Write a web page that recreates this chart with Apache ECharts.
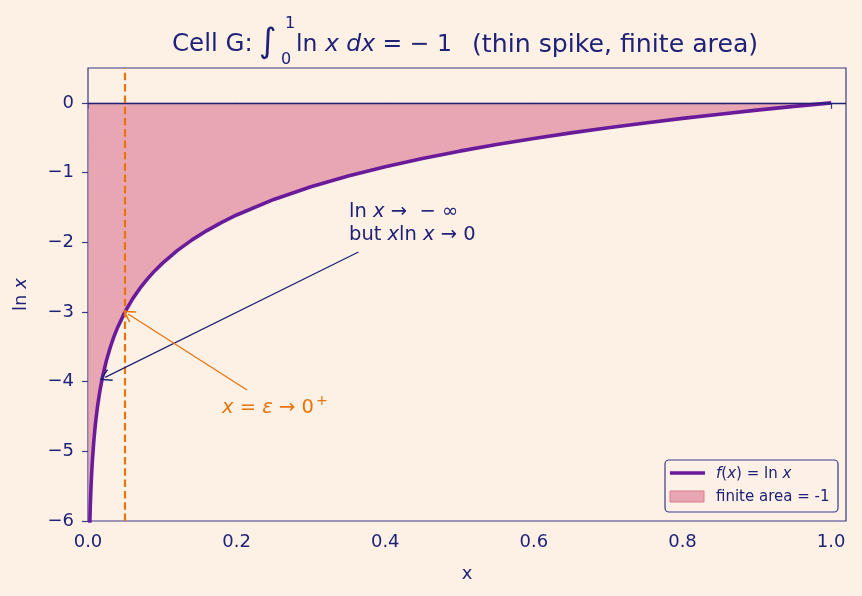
<!DOCTYPE html>
<html>
<head>
<meta charset="utf-8">
<script src="https://cdn.jsdelivr.net/npm/echarts@6/dist/echarts.min.js"></script>
<style>
html, body { margin: 0; padding: 0; background: #fdf1e6; }
#chart { width: 862px; height: 596px; }
</style>
</head>
<body>
<div id="chart"></div>
<script>
// values of ln x
var xs = [0.0005, 0.001, 0.0015, 0.002, 0.003, 0.004, 0.005, 0.006, 0.008, 0.01,
    0.0125, 0.015, 0.0175, 0.02, 0.025, 0.03, 0.035, 0.04, 0.05, 0.06,
    0.07, 0.08, 0.09, 0.1, 0.12, 0.14, 0.16, 0.18, 0.2, 0.25,
    0.3, 0.35, 0.4, 0.45, 0.5, 0.55, 0.6, 0.65, 0.7, 0.75,
    0.8, 0.85, 0.9, 0.95, 1.0];
var ys = [-7.60, -6.908, -6.502, -6.215, -5.809, -5.521, -5.298, -5.116, -4.828, -4.605,
    -4.382, -4.200, -4.046, -3.912, -3.689, -3.507, -3.352, -3.219, -2.996, -2.813,
    -2.659, -2.526, -2.408, -2.303, -2.120, -1.966, -1.833, -1.715, -1.609, -1.386,
    -1.204, -1.050, -0.916, -0.799, -0.693, -0.598, -0.511, -0.431, -0.357, -0.288,
    -0.223, -0.163, -0.105, -0.051, 0];
var xTicks = [0, 0.2, 0.4, 0.6, 0.8, 1.0];
var yTicks = [-6, -5, -4, -3, -2, -1, 0];
var epsX = 0.05;
// annotation arrows: [from, to] in data coords
var arrowInf = [[0.364, -2.14], [0.023, -3.94]];
var arrowEps = [[0.214, -4.12], [0.054, -3.03]];

var navy = '#1f2277';
var frame = '#3a3a88';
var purple = '#6a1b9a';
var pink = '#e8a6b2';
var orange = '#e8740a';
var font = 'DejaVu Sans';
var openArrow = 'path://M5,0 L10,10 L9,10.8 L5,2.6 L1,10.8 L0,10 Z';

var chart = echarts.init(document.getElementById('chart'));
var pts = xs.map(function (x, i) { return [x, ys[i]]; });

function rt(size, color) {
    return {
        t: { fontSize: size, fontFamily: font, fill: color, color: color },
        i: { fontSize: size, fontFamily: font, fill: color, color: color, fontStyle: 'italic' }
    };
}

var option = {
    backgroundColor: '#fdf1e6',
    animation: false,
    grid: {
        left: 88, right: 16, top: 68, bottom: 75,
        show: true, borderColor: frame, borderWidth: 1.2, backgroundColor: 'transparent'
    },
    xAxis: {
        type: 'value', min: 0, max: 1.02, interval: 0.2,
        name: 'x', nameLocation: 'middle', nameGap: 44,
        nameTextStyle: { color: navy, fontSize: 18, fontFamily: font },
        axisLine: { show: false },
        axisTick: { show: true, length: 6, customValues: xTicks, lineStyle: { color: frame, width: 1.2 } },
        axisLabel: {
            color: navy, fontSize: 18, fontFamily: font, margin: 12,
            customValues: xTicks,
            formatter: function (v) { return v.toFixed(1); }
        },
        splitLine: { show: false }
    },
    yAxis: {
        type: 'value', min: -6, max: 0.5, interval: 1,
        name: '{t|ln }{i|x}', nameLocation: 'middle', nameGap: 58, nameRotate: 90,
        nameTextStyle: { color: navy, fontSize: 18, fontFamily: font, rich: rt(18, navy) },
        axisLine: { show: false },
        axisTick: { show: true, length: 6, customValues: yTicks, lineStyle: { color: frame, width: 1.2 } },
        axisLabel: {
            color: navy, fontSize: 18, fontFamily: font, margin: 14,
            customValues: yTicks,
            formatter: function (v) { return String(v).replace('-', '\u2212'); }
        },
        splitLine: { show: false }
    },
    series: [
        {
            name: 'finite area = -1',
            type: 'line',
            data: pts,
            showSymbol: false,
            lineStyle: { width: 0 },
            areaStyle: { color: pink, opacity: 1, origin: 0 },
            clip: true,
            z: 1
        },
        {
            name: 'f(x) = ln x',
            type: 'line',
            data: pts,
            showSymbol: false,
            lineStyle: { color: purple, width: 3.6 },
            clip: true,
            z: 3,
            markLine: {
                silent: true,
                symbol: 'none',
                label: { show: false },
                data: [
                    { yAxis: 0, lineStyle: { color: navy, width: 1.4, type: 'solid' } },
                    { xAxis: epsX, lineStyle: { color: orange, width: 2.2, type: [7.5, 3.8] } }
                ]
            }
        },
        {
            type: 'line',
            data: [],
            z: 4,
            markLine: {
                silent: true,
                symbol: ['none', openArrow],
                symbolSize: [13, 12],
                label: { show: false },
                data: [
                    [{ coord: arrowInf[0], lineStyle: { color: navy, width: 1.3, type: 'solid' }, itemStyle: { color: navy } },
                     { coord: arrowInf[1] }],
                    [{ coord: arrowEps[0], lineStyle: { color: orange, width: 1.3, type: 'solid' }, itemStyle: { color: orange } },
                     { coord: arrowEps[1] }]
                ]
            }
        }
    ],
    graphic: [
        // title
        { type: 'text', x: 172, y: 45, z: 10,
          style: { text: 'Cell G:', fontSize: 24.5, fontFamily: font, fill: navy, verticalAlign: 'middle' } },
        { type: 'text', x: 259, y: 43, z: 10,
          style: { text: '\u222B', fontSize: 34, fontFamily: font, fill: navy, verticalAlign: 'middle' } },
        { type: 'text', x: 285, y: 24, z: 10,
          style: { text: '1', fontSize: 16, fontFamily: font, fill: navy, verticalAlign: 'middle' } },
        { type: 'text', x: 281, y: 60, z: 10,
          style: { text: '0', fontSize: 16, fontFamily: font, fill: navy, verticalAlign: 'middle' } },
        { type: 'text', x: 296, y: 45, z: 10,
          style: { text: '{t|ln }{i|x}{t| }{i|dx}{t| = \u2212 1}', verticalAlign: 'middle', rich: rt(23.5, navy) } },
        { type: 'text', x: 472, y: 45, z: 10,
          style: { text: '(thin spike, finite area)', fontSize: 25.2, fontFamily: font, fill: navy, verticalAlign: 'middle' } },
        // annotation texts
        {
            type: 'text', x: 349, y: 223, z: 10,
            style: {
                text: '{t|ln }{i|x}{t| \u2192  \u2212 \u221E}\n{t|but }{i|x}{t|ln }{i|x}{t| \u2192 0}',
                verticalAlign: 'middle',
                rich: {
                    t: { fontSize: 19.5, fontFamily: font, fill: navy, lineHeight: 23 },
                    i: { fontSize: 19.5, fontFamily: font, fill: navy, fontStyle: 'italic', lineHeight: 23 }
                }
            }
        },
        {
            type: 'text', x: 222, y: 408, z: 10,
            style: {
                text: '{i|x}{t| = }{i|\u03B5}{t| \u2192 0}{s|+}',
                verticalAlign: 'middle',
                rich: {
                    t: { fontSize: 19.5, fontFamily: font, fill: orange },
                    i: { fontSize: 19.5, fontFamily: font, fill: orange, fontStyle: 'italic' },
                    s: { fontSize: 14, fontFamily: font, fill: orange, verticalAlign: 'top', padding: [0, 0, 14, 2] }
                }
            }
        },
        // legend
        {
            type: 'rect', z: 10,
            shape: { x: 665, y: 460, width: 173, height: 52, r: 4 },
            style: { fill: 'rgba(253,241,230,0.85)', stroke: frame, lineWidth: 1.2 }
        },
        {
            type: 'line', z: 11,
            shape: { x1: 670, y1: 473, x2: 705, y2: 473 },
            style: { stroke: purple, lineWidth: 3.6 }
        },
        {
            type: 'rect', z: 11,
            shape: { x: 670, y: 491, width: 34, height: 11 },
            style: { fill: pink, stroke: '#e07a8c', lineWidth: 1 }
        },
        {
            type: 'text', x: 716, y: 474, z: 11,
            style: { text: '{i|f}{t|(}{i|x}{t|) = ln }{i|x}', verticalAlign: 'middle', rich: rt(15, navy) }
        },
        {
            type: 'text', x: 716, y: 497, z: 11,
            style: { text: 'finite area = -1', fontSize: 15, fontFamily: font, fill: navy, verticalAlign: 'middle' }
        }
    ]
};

chart.setOption(option);
</script>
</body>
</html>
